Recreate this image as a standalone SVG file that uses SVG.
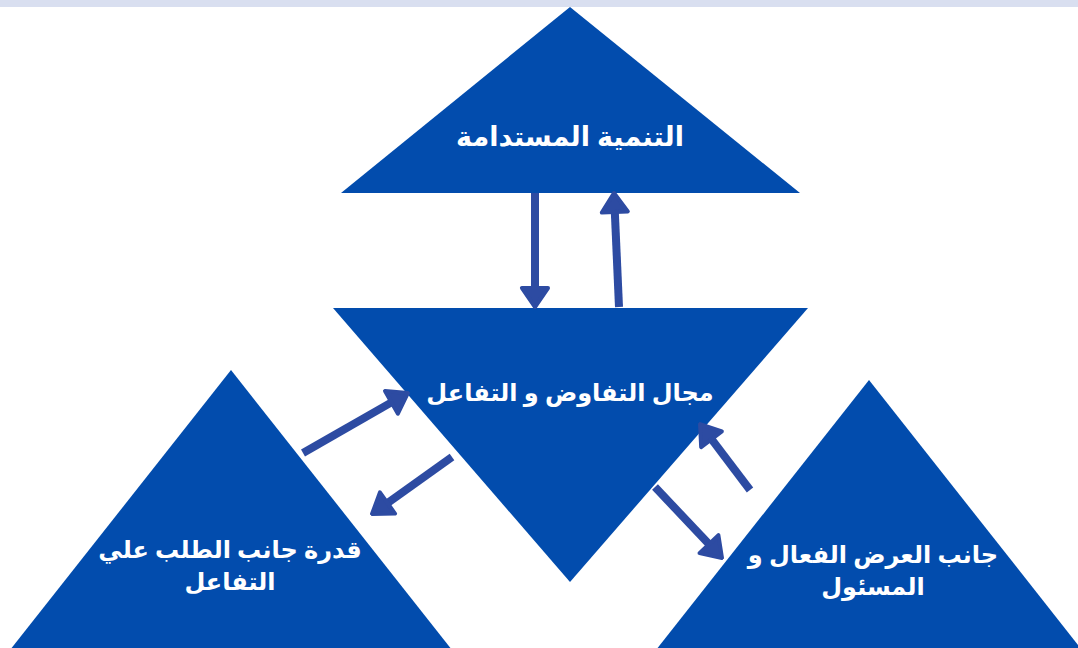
<svg xmlns="http://www.w3.org/2000/svg" width="1078" height="648" viewBox="0 0 1078 648">
<style>
.tri{fill:#024CAD}
.lbl{fill:#ffffff;font-family:"Noto Sans","DejaVu Sans",sans-serif;font-weight:bold;font-size:24px;text-anchor:middle;direction:rtl}
.big{font-size:27px}
.arr{stroke:#2D4BA2;stroke-width:8;fill:none;marker-end:url(#ah)}
</style>
<defs>
<marker id="ah" viewBox="0 0 24 32" refX="8" refY="16" markerWidth="24" markerHeight="32" markerUnits="userSpaceOnUse" orient="auto">
<path d="M3,3 L22,16 L3,29 Z" fill="#2D4BA2" stroke="#2D4BA2" stroke-width="4" stroke-linejoin="round"/>
</marker>
</defs>
<rect x="0" y="0" width="1078" height="7" fill="#D9DFF0"/>
<g id="node-top">
<polygon class="tri" points="570,7 800,193 341,193"/>
<text class="lbl big" x="570" y="146">التنمية المستدامة</text>
</g>
<g id="node-center">
<polygon class="tri" points="333,308 808,308 570,582"/>
<text class="lbl" x="570" y="401">مجال التفاوض و التفاعل</text>
</g>
<g id="node-left">
<polygon class="tri" points="231,370 452,650 10,650"/>
<text class="lbl" x="230" y="558">قدرة جانب الطلب علي</text>
<text class="lbl" x="230" y="590">التفاعل</text>
</g>
<g id="node-right">
<polygon class="tri" points="869,380 1082,650 656,650"/>
<text class="lbl" x="873" y="563">جانب العرض الفعال و</text>
<text class="lbl" x="873" y="595">المسئول</text>
</g>
<g id="connectors">
<line class="arr" x1="535" y1="193" x2="535" y2="293"/>
<line class="arr" x1="619" y1="307" x2="614.6" y2="207"/>
<line class="arr" x1="303" y1="453" x2="395.8" y2="399.9"/>
<line class="arr" x1="452" y1="457" x2="383.4" y2="505.9"/>
<line class="arr" x1="750" y1="490" x2="708.5" y2="435.2"/>
<line class="arr" x1="655" y1="487" x2="712.4" y2="547.8"/>
</g>
</svg>
